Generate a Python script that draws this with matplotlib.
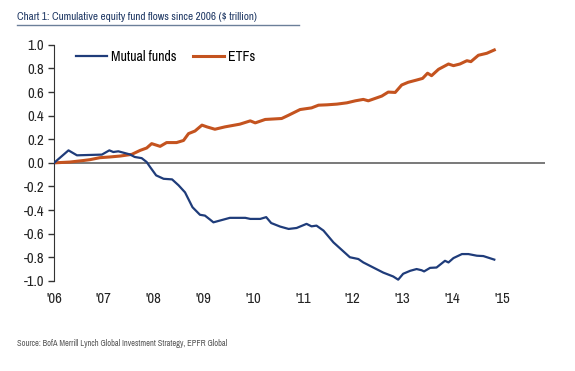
import matplotlib
matplotlib.use("Agg")
import matplotlib.pyplot as plt
from matplotlib.lines import Line2D

plt.rcParams['font.family'] = ['Archivo Narrow', 'Liberation Sans', 'DejaVu Sans']

# cumulative flows, $ trillion
mf_t = [2006.0, 2006.29, 2006.46, 2006.96, 2007.11, 2007.19, 2007.29, 2007.52, 2007.62,
        2007.76, 2007.86, 2007.93, 2008.05, 2008.20, 2008.37, 2008.50, 2008.63, 2008.78,
        2008.93, 2009.03, 2009.13, 2009.20, 2009.53, 2009.84, 2009.94, 2010.14, 2010.26,
        2010.36, 2010.54, 2010.71, 2010.87, 2011.07, 2011.17, 2011.27, 2011.41, 2011.61,
        2011.94, 2012.11, 2012.21, 2012.41, 2012.61, 2012.81, 2012.91, 2013.01, 2013.15,
        2013.28, 2013.38, 2013.43, 2013.55, 2013.68, 2013.85, 2013.92, 2014.02, 2014.19,
        2014.32, 2014.49, 2014.62, 2014.84]
mf_v = [0.0, 0.106, 0.064, 0.07, 0.106, 0.092, 0.098, 0.072, 0.05,
        0.04, 0.007, -0.036, -0.106, -0.135, -0.14, -0.19, -0.25, -0.376,
        -0.44, -0.447, -0.48, -0.504, -0.466, -0.466, -0.475, -0.475, -0.46,
        -0.51, -0.54, -0.56, -0.552, -0.517, -0.538, -0.532, -0.574, -0.674,
        -0.80, -0.815, -0.844, -0.887, -0.93, -0.963, -0.99, -0.94, -0.915,
        -0.90, -0.91, -0.92, -0.89, -0.887, -0.83, -0.844, -0.807, -0.773,
        -0.773, -0.787, -0.79, -0.82]

etf_t = [2006.0, 2006.32, 2006.59, 2006.72, 2006.92, 2007.12, 2007.33, 2007.56, 2007.73,
         2007.86, 2007.96, 2008.13, 2008.26, 2008.46, 2008.60, 2008.70, 2008.83, 2008.97,
         2009.07, 2009.23, 2009.43, 2009.73, 2009.94, 2010.04, 2010.24, 2010.57, 2010.71,
         2010.94, 2011.17, 2011.31, 2011.48, 2011.68, 2011.88, 2012.05, 2012.21, 2012.31,
         2012.58, 2012.71, 2012.85, 2012.98, 2013.11, 2013.28, 2013.40, 2013.50, 2013.58,
         2013.72, 2013.92, 2014.02, 2014.15, 2014.29, 2014.37, 2014.52, 2014.69, 2014.84]
etf_v = [0.0, 0.007, 0.02, 0.027, 0.044, 0.05, 0.058, 0.072, 0.106,
         0.126, 0.163, 0.14, 0.172, 0.172, 0.19, 0.248, 0.27, 0.32,
         0.305, 0.285, 0.305, 0.328, 0.356, 0.339, 0.368, 0.376, 0.404,
         0.452, 0.466, 0.489, 0.492, 0.498, 0.509, 0.526, 0.538, 0.526,
         0.566, 0.60, 0.597, 0.66, 0.683, 0.702, 0.716, 0.76, 0.739,
         0.793, 0.838, 0.824, 0.838, 0.866, 0.858, 0.912, 0.929, 0.957]

years = list(range(2006, 2016))
year_labels = ["'06", "'07", "'08", "'09", "'10", "'11", "'12", "'13", "'14", "'15"]
yticks = [-1.0, -0.8, -0.6, -0.4, -0.2, 0.0, 0.2, 0.4, 0.6, 0.8, 1.0]

blue = '#1f3c7a'
orange = '#c4531f'

fig = plt.figure(figsize=(5.75, 3.71), dpi=100)
ax = fig.add_axes([0.094, 0.243, 0.854, 0.636])

ax.axhline(0, color='#555555', lw=1.1, zorder=1)
ax.plot(mf_t, mf_v, color=blue, lw=1.6, label='Mutual funds', zorder=3)
ax.plot(etf_t, etf_v, color=orange, lw=2.2, label='ETFs', zorder=2)

ax.set_xlim(2006, 2015.86)
ax.set_ylim(-1.0, 1.0)
ax.set_xticks(years)
ax.set_xticklabels(year_labels)
ax.set_yticks(yticks)
ax.set_yticklabels(['%.1f' % v for v in yticks])
ax.tick_params(axis='x', length=0, pad=8, labelsize=10.5, labelcolor='#222222')
ax.tick_params(axis='y', length=4, width=1, color='#333333', labelsize=10.5,
               labelcolor='#222222', pad=3)
for s in ['top', 'right', 'bottom']:
    ax.spines[s].set_visible(False)
ax.spines['left'].set_color('#333333')

ax.legend(loc='upper left', bbox_to_anchor=(0.02, 1.032), ncol=2, frameon=False,
          fontsize=10, handlelength=2.2, handletextpad=0.3, columnspacing=1.2)

fig.text(0.03, 0.953, 'Chart 1: Cumulative equity fund flows since 2006 ($ trillion)',
         fontsize=8, color='#1f3864', va='center')
fig.add_artist(Line2D([0.03, 0.52], [0.932, 0.932], color='#6b7f99', lw=1.0))
fig.text(0.03, 0.074, 'Source: BofA Merrill Lynch Global Investment Strategy, EPFR Global',
         fontsize=6, color='#555555', va='center')

fig.savefig('out.png', dpi=100)
